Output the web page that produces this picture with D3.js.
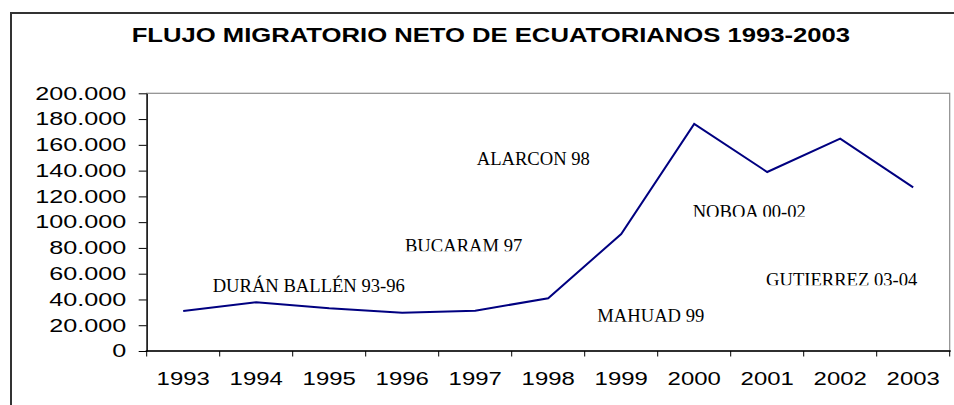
<!DOCTYPE html>
<html>
<head>
<meta charset="utf-8">
<script src="https://cdn.jsdelivr.net/npm/d3@7"></script>
<style>
  html, body { margin: 0; padding: 0; background: #fff; }
  svg { display: block; }
</style>
</head>
<body>
<svg id="chart" width="954" height="405"></svg>
<script>
// ---- data ----
const title = "FLUJO MIGRATORIO NETO DE ECUATORIANOS 1993-2003";
const years = ["1993","1994","1995","1996","1997","1998","1999","2000","2001","2002","2003"];
const netFlow = [31000, 37800, 33100, 29700, 31300, 40900, 90800, 176200, 138900, 164800, 127000];
const yTicks = [0, 20000, 40000, 60000, 80000, 100000, 120000, 140000, 160000, 180000, 200000];
const annotationLabels = ["DURÁN BALLÉN 93-96", "BUCARAM 97", "ALARCON 98", "MAHUAD 99", "NOBOA 00-02", "GUTIERREZ 03-04"];
// anchor (left/baseline) of each label in data space: [category offset (fractional), value]
const annotationYear = [0.904, 3.538, 4.521, 6.173, 7.479, 8.484];
const annotationValue = [45560, 76830, 144350, 22120, 103600, 50450];
const annotationClipped = [false, true, false, true, true, true];

// ---- layout ----
const svg = d3.select("#chart");
const W = 954, H = 405;
const plot = { left: 146.7, top: 93.3, right: 949.7, bottom: 351 };

// outer frame
svg.append("rect")
  .attr("x", 11).attr("y", 13)
  .attr("width", W + 20).attr("height", H + 20)
  .attr("fill", "#fff").attr("stroke", "#333").attr("stroke-width", 2);

// title
const t = svg.append("text")
  .attr("font-family", "Liberation Sans, Arial, sans-serif")
  .attr("font-weight", "bold")
  .attr("font-size", 19.5)
  .attr("fill", "#000")
  .text(title);
{
  const natural = t.node().getComputedTextLength();
  const target = 719;
  t.attr("transform", `translate(131.7,42.3) scale(${target / natural},1)`);
}

// scales
const x = d3.scaleBand().domain(years).range([plot.left, plot.right]).padding(0);
const y = d3.scaleLinear().domain([0, 200000]).range([plot.bottom, plot.top]);

// plot frame (gray top/right)
svg.append("rect")
  .attr("x", plot.left).attr("y", plot.top)
  .attr("width", plot.right - plot.left).attr("height", plot.bottom - plot.top)
  .attr("fill", "#fff").attr("stroke", "#8c8c8c").attr("stroke-width", 1.2);

// y axis
const yAxis = svg.append("g")
  .attr("transform", `translate(${plot.left},0)`)
  .call(d3.axisLeft(y).tickValues(yTicks).tickSize(8).tickSizeOuter(0)
    .tickFormat(d => d === 0 ? "0" : d3.format(",")(d).replace(/,/g, ".")));
yAxis.select(".domain").attr("stroke", "#000").attr("stroke-width", 1.3);
yAxis.selectAll(".tick line").attr("stroke", "#000").attr("stroke-width", 1);
yAxis.selectAll(".tick text")
  .attr("font-family", "Liberation Sans, Arial, sans-serif")
  .attr("font-size", 18)
  .attr("fill", "#000")
  .attr("x", null).attr("dy", null)
  .attr("transform", "translate(-20.5,5.8) scale(1.4,1)");

// x axis with ticks between categories
const xAxisG = svg.append("g").attr("transform", `translate(0,${plot.bottom})`);
xAxisG.append("line")
  .attr("x1", plot.left - 1).attr("x2", plot.right + 1)
  .attr("stroke", "#000").attr("stroke-width", 1.3);
const boundaries = years.map(d => x(d)).concat([x(years[years.length - 1]) + x.bandwidth()]);
xAxisG.selectAll("line.tk").data(boundaries).join("line")
  .attr("class", "tk")
  .attr("x1", d => d).attr("x2", d => d)
  .attr("y1", 0).attr("y2", 5.5)
  .attr("stroke", "#000").attr("stroke-width", 1);
xAxisG.selectAll("text").data(years).join("text")
  .attr("font-family", "Liberation Sans, Arial, sans-serif")
  .attr("font-size", 18)
  .attr("fill", "#000")
  .attr("text-anchor", "middle")
  .attr("transform", d => `translate(${x(d) + x.bandwidth() / 2},34) scale(1.33,1)`)
  .text(d => d);

// line
const line = d3.line()
  .x((d, i) => x(years[i]) + x.bandwidth() / 2)
  .y(d => y(d));
svg.append("path")
  .datum(netFlow)
  .attr("d", line)
  .attr("fill", "none")
  .attr("stroke", "#000080")
  .attr("stroke-width", 2);

// annotations
const defs = svg.append("defs");
annotationLabels.forEach((lab, i) => {
  const ax = plot.left + annotationYear[i] * x.bandwidth();
  const ay = y(annotationValue[i]);
  const txt = svg.append("text")
    .attr("x", ax).attr("y", ay)
    .attr("font-family", "Liberation Serif, Times New Roman, serif")
    .attr("font-size", 18.6)
    .attr("fill", "#000")
    .text(lab);
  if (annotationClipped[i]) {
    const bb = txt.node().getBBox();
    const id = "clip" + i;
    defs.append("clipPath").attr("id", id)
      .append("rect")
      .attr("x", bb.x - 2).attr("y", bb.y - 2)
      .attr("width", bb.width + 4).attr("height", ay - 0.8 - (bb.y - 2));
    txt.attr("clip-path", `url(#${id})`);
  }
});
</script>
</body>
</html>
